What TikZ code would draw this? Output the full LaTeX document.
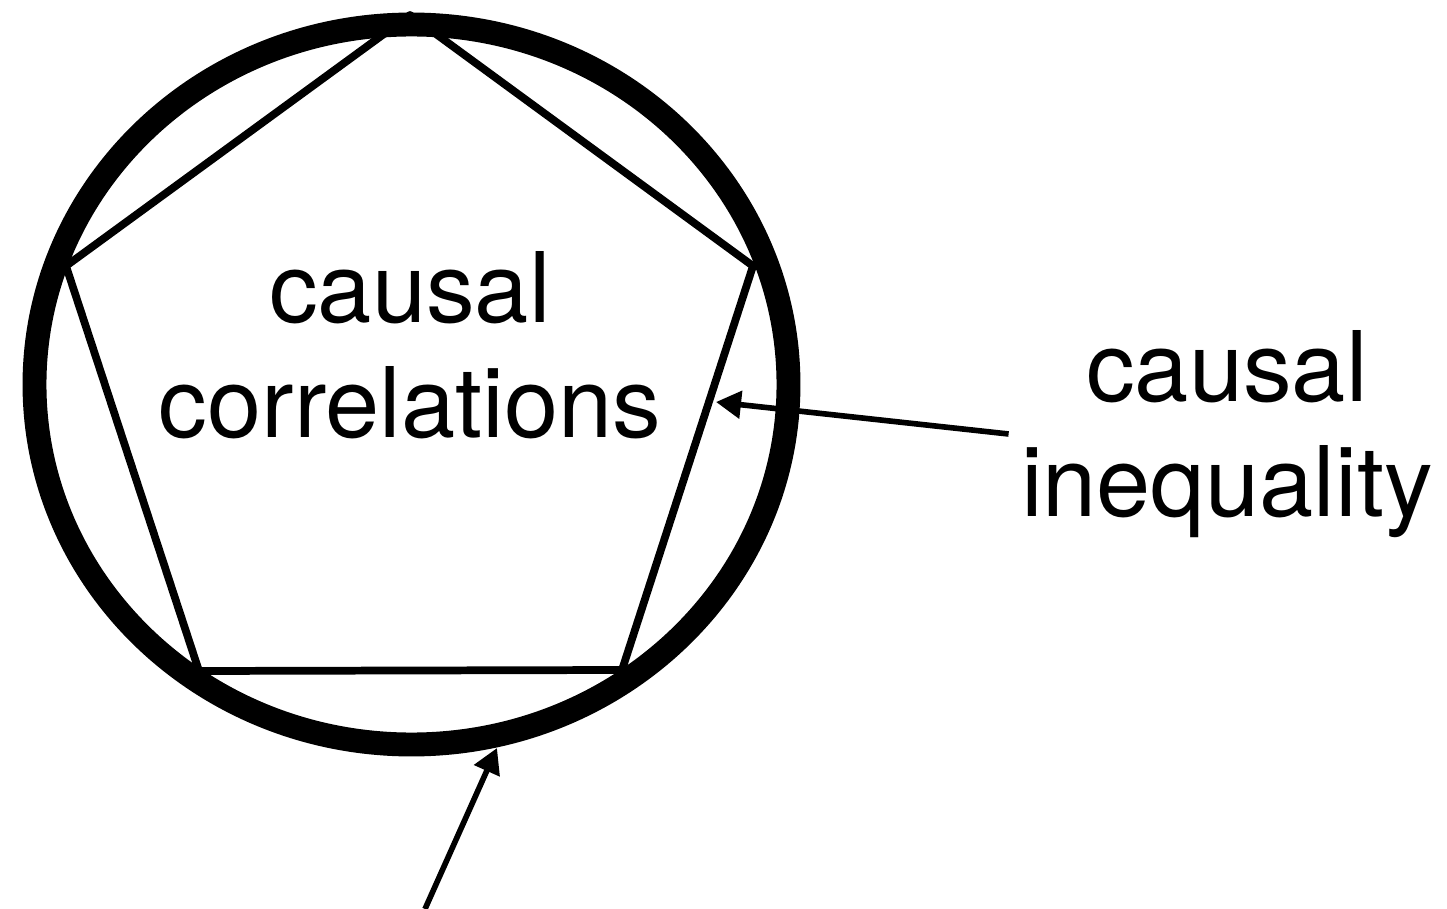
\documentclass[tikz,border=0pt]{standalone}
\usepackage{fontspec}
\setmainfont{TeX Gyre Heros}
\usepackage{tikz}
\usetikzlibrary{arrows.meta}

\begin{document}
\begin{tikzpicture}[x=0.01cm, y=-0.01cm]
  \tikzset{
    boundary/.style={line width=6.8pt},
    facet/.style={line width=2.2pt, line join=round},
    pointer/.style={-{Triangle[length=0.25cm, width=0.27cm]}, line width=1.6pt},
    biglabel/.style={align=center, font=\fontsize{27.7}{32.7}\selectfont}
  }
  \useasboundingbox (0,0) rectangle (1447,909);

  %--- pentagon of causal correlations ---
  \coordinate (ptop)   at (410,15);
  \coordinate (pright) at (753,266);
  \coordinate (pbr)    at (622,670);
  \coordinate (pbl)    at (199,671);
  \coordinate (pleft)  at (66,266);
  \draw[facet] (ptop) -- (pright) -- (pbr) -- (pbl) -- (pleft) -- cycle;

  %--- thick boundary ---
  \draw[boundary] (411.5,384.5) ellipse [x radius=377, y radius=360];

  %--- labels ---
  \node[biglabel] (corrlabel) at (410,345) {causal\\correlations};
  \node[biglabel] (ineqlabel) at (1227,434) {causal\\inequality};

  %--- arrows ---
  \coordinate (ineqtip)   at (716,402);
  \coordinate (circtip)   at (497,748);
  \coordinate (footstart) at (425,909);
  \draw[pointer] (ineqlabel.west) -- (ineqtip);
  \draw[pointer] (footstart) -- (circtip);

\end{tikzpicture}
\end{document}
